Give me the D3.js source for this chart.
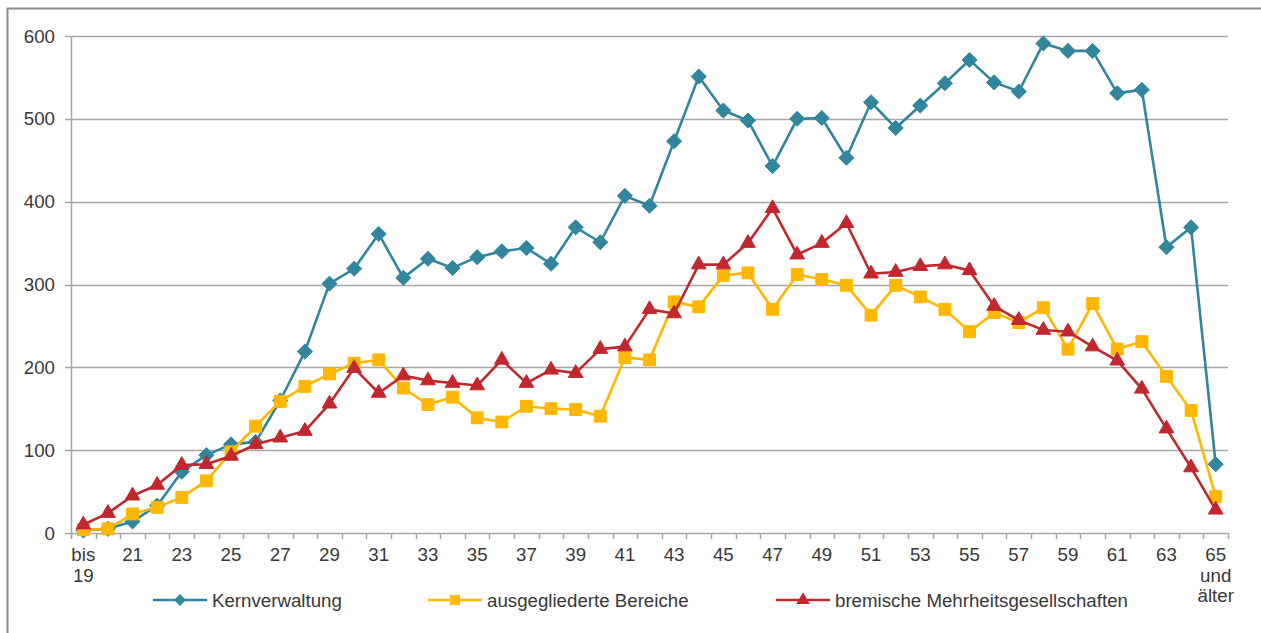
<!DOCTYPE html>
<html>
<head>
<meta charset="utf-8">
<script src="https://cdn.jsdelivr.net/npm/d3@7"></script>
<style>
  body { margin: 0; background: #fff; }
  svg { display: block; font-family: "Liberation Sans", Arial, sans-serif; }
</style>
</head>
<body>
<svg id="chart" width="1261" height="633"></svg>
<script>
// DATA
const ages = ['bis 19'].concat(d3.range(20, 65).map(String)).concat(['65 und älter']);

const kernverwaltung = [3, 5, 14, 33, 74, 94, 107, 110, 160, 219, 301, 319, 361, 308, 331, 320, 333, 340, 344, 325,
  369, 351, 407, 395, 473, 551, 510, 498, 443, 500, 501, 453, 520, 489, 516, 543, 571, 544, 533, 591,
  582, 582, 531, 535, 345, 369, 83];

const ausgegliedert = [4, 5, 23, 31, 43, 63, 98, 129, 159, 177, 192, 205, 209, 175, 155, 164, 139, 134, 153, 150,
  149, 141, 212, 209, 279, 273, 311, 314, 270, 312, 306, 299, 263, 299, 285, 270, 243, 266, 254, 272,
  222, 277, 222, 231, 189, 148, 44];

const mehrheitsges = [10, 24, 45, 58, 82, 83, 93, 107, 115, 123, 156, 199, 169, 190, 184, 181, 178, 209, 181, 197,
  193, 222, 225, 270, 265, 324, 324, 350, 392, 336, 350, 374, 313, 315, 322, 324, 317, 274, 257, 245,
  243, 225, 208, 174, 126, 79, 28];

const yTicks = [0, 100, 200, 300, 400, 500, 600];

const series = [
  { name: 'Kernverwaltung', values: kernverwaltung, color: '#31869E', symbol: d3.symbolDiamond2 },
  { name: 'ausgegliederte Bereiche', values: ausgegliedert, color: '#FFB700', symbol: d3.symbolSquare2 },
  { name: 'bremische Mehrheitsgesellschaften', values: mehrheitsges, color: '#C1272D', symbol: d3.symbolTriangle2 }
];

// LAYOUT
const svg = d3.select('#chart');
const plotLeft = 71, plotRight = 1228, plotTop = 36, plotBottom = 533;
const textColor = '#383838';
const fontSize = 18.7;

svg.append('rect')
  .attr('x', 7.5).attr('y', 8.5)
  .attr('width', 1270).attr('height', 640)
  .attr('fill', 'none')
  .attr('stroke', '#8c8c8c')
  .attr('stroke-width', 2);

const x = d3.scaleBand().domain(ages).range([plotLeft, plotRight]);
const y = d3.scaleLinear().domain([0, 600]).range([plotBottom, plotTop]);
const cx = d => x(d) + x.bandwidth() / 2;

// gridlines
svg.append('g')
  .selectAll('line')
  .data(yTicks)
  .join('line')
  .attr('x1', plotLeft).attr('x2', plotRight)
  .attr('y1', d => Math.round(y(d)) + 0.5)
  .attr('y2', d => Math.round(y(d)) + 0.5)
  .attr('stroke', '#a6a6a6')
  .attr('stroke-width', 1.5);

// y axis
svg.append('line')
  .attr('x1', plotLeft + 0.5).attr('x2', plotLeft + 0.5)
  .attr('y1', plotTop).attr('y2', plotBottom + 6)
  .attr('stroke', '#a6a6a6').attr('stroke-width', 1.5);

svg.append('g')
  .selectAll('line')
  .data(yTicks)
  .join('line')
  .attr('x1', plotLeft - 6).attr('x2', plotLeft)
  .attr('y1', d => Math.round(y(d)) + 0.5)
  .attr('y2', d => Math.round(y(d)) + 0.5)
  .attr('stroke', '#a6a6a6').attr('stroke-width', 1.5);

svg.append('g')
  .selectAll('text')
  .data(yTicks)
  .join('text')
  .attr('x', 55)
  .attr('y', d => y(d))
  .attr('dy', '0.35em')
  .attr('text-anchor', 'end')
  .attr('font-size', fontSize)
  .attr('fill', textColor)
  .text(d => d);

// x axis category ticks (between categories)
svg.append('g')
  .selectAll('line')
  .data(ages.concat(['end']))
  .join('line')
  .attr('x1', (d, i) => Math.round(plotLeft + i * x.step()) + 0.5)
  .attr('x2', (d, i) => Math.round(plotLeft + i * x.step()) + 0.5)
  .attr('y1', plotBottom).attr('y2', plotBottom + 6)
  .attr('stroke', '#a6a6a6').attr('stroke-width', 1.5);

const xLabels = svg.append('g')
  .selectAll('text')
  .data(ages.filter((d, i) => i % 2 === 0))
  .join('text')
  .attr('x', d => cx(d))
  .attr('y', 561)
  .attr('text-anchor', 'middle')
  .attr('font-size', fontSize)
  .attr('fill', textColor);

xLabels.each(function(d) {
  const words = d === 'bis 19' ? ['bis', '19'] : d === '65 und älter' ? ['65', 'und', 'älter'] : [d];
  d3.select(this).selectAll('tspan')
    .data(words)
    .join('tspan')
    .attr('x', cx(d))
    .attr('dy', (w, i) => i === 0 ? 0 : 20.5)
    .text(w => w);
});

// series
const line = d3.line()
  .x((v, i) => cx(ages[i]))
  .y(v => y(v));

series.forEach(s => {
  const g = svg.append('g');
  g.append('path')
    .attr('d', line(s.values))
    .attr('fill', 'none')
    .attr('stroke', s.color)
    .attr('stroke-width', 2.6)
    .attr('stroke-linejoin', 'round');

  const size = s.symbol === d3.symbolDiamond2 ? 145 : s.symbol === d3.symbolSquare2 ? 180 : 155;
  g.selectAll('path.mark')
    .data(s.values)
    .join('path')
    .classed('mark', true)
    .attr('transform', (v, i) => `translate(${cx(ages[i])},${y(v)})`)
    .attr('d', d3.symbol().type(s.symbol).size(size))
    .attr('fill', s.color)
    .attr('stroke', s.color)
    .attr('stroke-width', 1);
});

// legend
const legendX = [153, 428, 776];
const legend = svg.append('g')
  .selectAll('g')
  .data(series)
  .join('g')
  .attr('transform', (d, i) => `translate(${legendX[i]},600)`);

legend.append('line')
  .attr('x1', 0).attr('x2', 54)
  .attr('stroke', d => d.color)
  .attr('stroke-width', 2.6);

legend.append('path')
  .attr('transform', 'translate(27,0)')
  .attr('d', d => d3.symbol().type(d.symbol).size(d.symbol === d3.symbolDiamond2 ? 90 : 130)())
  .attr('fill', d => d.color);

legend.append('text')
  .attr('x', 59)
  .attr('y', 0)
  .attr('dy', '0.35em')
  .attr('font-size', fontSize)
  .attr('fill', textColor)
  .text(d => d.name);
</script>
</body>
</html>
